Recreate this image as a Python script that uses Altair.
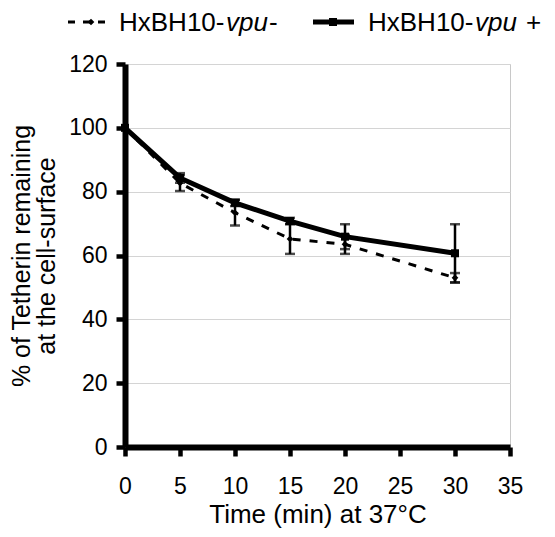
import altair as alt
import pandas as pd

# ---- data ----
time = [0, 5, 10, 15, 20, 30]
minus_mean = [100, 82.7, 73.4, 65.2, 63.5, 53.0]
minus_err = [0, 2.5, 4.0, 4.7, 3.0, 1.5]
plus_mean = [100, 84.3, 76.5, 70.8, 65.9, 60.7]
plus_err = [0, 1.5, 1.0, 1.0, 3.9, 9.1]
series_names = ["vpu-", "vpu+"]
x_ticks = [0, 5, 10, 15, 20, 25, 30, 35]
y_ticks = [0, 20, 40, 60, 80, 100, 120]

rows = []
for name, means, errs in [(series_names[0], minus_mean, minus_err),
                          (series_names[1], plus_mean, plus_err)]:
    for t, m, e in zip(time, means, errs):
        rows.append({"series": name, "time": t, "mean": m, "err": e,
                     "lo": m - e, "hi": m + e})
df = pd.DataFrame(rows)

FONT = "Arial, Liberation Sans, sans-serif"
W, H = 385, 383

x_axis = alt.Axis(values=x_ticks, title="Time (min) at 37°C", grid=False,
                  domainColor="black", domainWidth=6, tickColor="black",
                  tickWidth=4.5, tickSize=9, labelFontSize=23, labelFont=FONT,
                  labelColor="black", labelPadding=19, titleFontSize=26,
                  titleFont=FONT, titleFontWeight="normal", titleColor="black",
                  titlePadding=3, labelFlush=False)
y_axis = alt.Axis(values=y_ticks, title=["% of Tetherin remaining", "at the cell-surface"],
                  grid=True, gridColor="#d4d4d4", gridWidth=1,
                  domainColor="black", domainWidth=6, tickColor="black",
                  tickWidth=4.5, tickSize=9, labelFontSize=23, labelFont=FONT,
                  labelColor="black", labelPadding=9, titleFontSize=25,
                  titleFont=FONT, titleFontWeight="normal", titleColor="black",
                  titlePadding=9, titleLineHeight=25, labelFlush=False)

xs = alt.Scale(domain=[0, 35], nice=False)
ys = alt.Scale(domain=[0, 120], nice=False)

X = alt.X("time:Q", scale=xs, axis=x_axis)
def Y(field):
    return alt.Y(f"{field}:Q", scale=ys, axis=y_axis)

base = alt.Chart(df)
err_df = base.transform_filter("datum.err > 0")

rules = err_df.mark_rule(color="black", strokeWidth=2.5).encode(
    x=X, y=Y("lo"), y2="hi:Q")
cap_lo = err_df.mark_tick(color="black", size=10, thickness=2.5,
                          orient="horizontal").encode(x=X, y=Y("lo"))
cap_hi = err_df.mark_tick(color="black", size=10, thickness=2.5,
                          orient="horizontal").encode(x=X, y=Y("hi"))

minus = base.transform_filter(alt.datum.series == "vpu-")
plus = base.transform_filter(alt.datum.series == "vpu+")

line_minus = minus.mark_line(color="black", strokeWidth=3,
                             strokeDash=[8, 9]).encode(x=X, y=Y("mean"))
pts_minus = minus.mark_point(shape="diamond", filled=True, color="black",
                             size=45, opacity=1).encode(x=X, y=Y("mean"))
line_plus = plus.mark_line(color="black", strokeWidth=5).encode(x=X, y=Y("mean"))
pts_plus = plus.mark_point(shape="square", filled=True, color="black",
                           size=64, opacity=1).encode(x=X, y=Y("mean"))

# ---- manual legend (mixed roman / italic text) ----
one = alt.Data(values=[{"k": 1}])
LY_SYM = -42
LY_TXT = -33
FS = 26
leg = []
leg.append(alt.Chart(one).mark_rule(color="black", strokeWidth=3, strokeDash=[7, 8]).encode(
    x=alt.value(-57), x2=alt.value(-14), y=alt.value(LY_SYM)))
leg.append(alt.Chart(one).mark_point(shape="diamond", filled=True, color="black",
                                     size=45, opacity=1).encode(
    x=alt.value(-34), y=alt.value(LY_SYM)))
leg.append(alt.Chart(one).mark_rule(color="black", strokeWidth=5).encode(
    x=alt.value(188), x2=alt.value(229), y=alt.value(LY_SYM)))
leg.append(alt.Chart(one).mark_point(shape="square", filled=True, color="black",
                                     size=64, opacity=1).encode(
    x=alt.value(208), y=alt.value(LY_SYM)))

def txt(s, x, italic=False):
    return alt.Chart(one).mark_text(text=s, align="left", baseline="alphabetic",
                                    font=FONT, fontSize=FS, color="black",
                                    fontStyle="italic" if italic else "normal").encode(
        x=alt.value(x), y=alt.value(LY_TXT))

a0 = -6
leg.append(txt("HxBH10-", a0))
leg.append(txt("vpu", a0 + 107, True))
leg.append(txt("-", a0 + 107 + 43))
b0 = 243
leg.append(txt("HxBH10-", b0))
leg.append(txt("vpu", b0 + 107, True))
leg.append(txt("+", b0 + 107 + 51))

chart = alt.layer(rules, cap_lo, cap_hi, line_minus, pts_minus,
                  line_plus, pts_plus, *leg).properties(
    width=W, height=H,
    autosize=alt.AutoSizeParams(type="none"),
    padding={"left": 117, "top": 56, "right": 36, "bottom": 82},
    background="white",
).configure_view(stroke="#c8c8c8", strokeWidth=1)

chart.save("out.html", embed_options={"renderer": "svg", "actions": False})
